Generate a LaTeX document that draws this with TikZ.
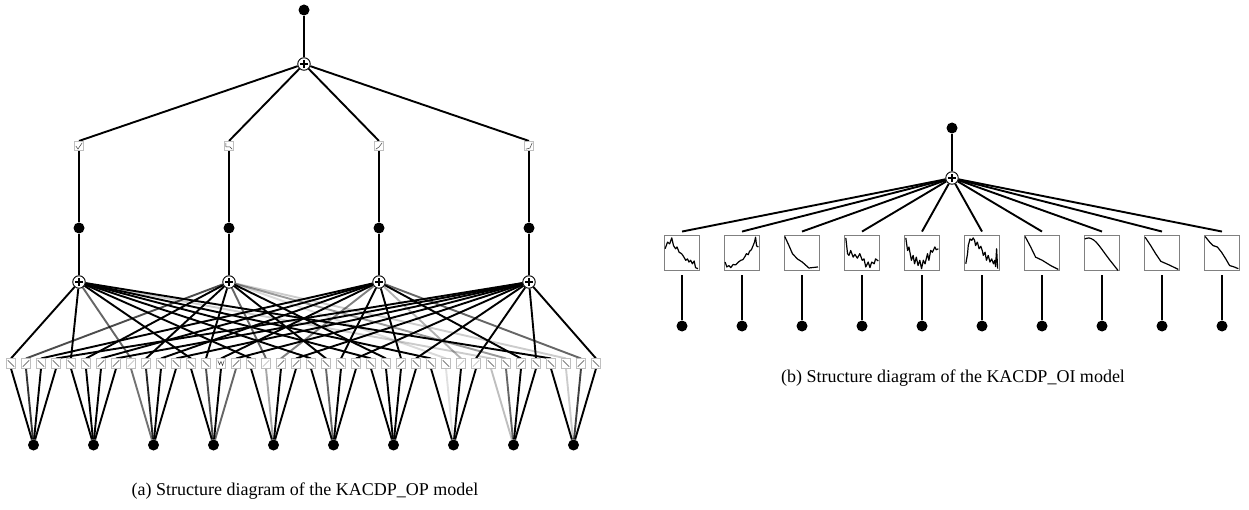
\documentclass[tikz,border=0pt]{standalone}
\usepackage{fontspec}
\setmainfont{Liberation Serif}
\usetikzlibrary{backgrounds}
\begin{document}
\begin{tikzpicture}[x=1pt,y=-1pt,
  dotn/.style={circle,fill=black,inner sep=0pt,minimum size=11pt},
  sumn/.style={circle,draw=black,line width=0.9pt,fill=white,inner sep=0pt,minimum size=12.5pt,
    path picture={
      \draw[line width=1.5pt] ([xshift=-4.2pt]path picture bounding box.center) -- ([xshift=4.2pt]path picture bounding box.center);
      \draw[line width=1.5pt] ([yshift=-4.2pt]path picture bounding box.center) -- ([yshift=4.2pt]path picture bounding box.center);}},
  sbox/.style={draw=black!25,line width=0.6pt,fill=white,inner sep=0pt,minimum size=9.5pt},
  bbox/.style={draw=black!50,line width=0.9pt,fill=white,inner sep=0pt,minimum size=35pt},
  edge/.style={line width=1.9pt},
  glyph/.style={line width=0.5pt,black!75},
  curve/.style={line width=1.2pt,line join=round},
  captext/.style={font=\fontsize{18}{22}\selectfont,inner sep=0pt}
]
\useasboundingbox (0,0) rectangle (1249,510);

% ---------------- (a) ----------------
\node[dotn] (o) at (304,10) {};
\node[sumn] (t) at (304,64) {};
\foreach \j/\x in {0/79,1/229,2/379,3/529}{
  \node[sbox] (q\j) at (\x,146) {};
  \node[dotn] (m\j) at (\x,228) {};
  \node[sumn] (h\j) at (\x,282) {};
}
\foreach \i in {0,...,39}{
  \node[sbox] (b\i) at ({11+15*\i},363.5) {};
}
\foreach \k in {0,...,9}{
  \node[dotn] (d\k) at ({33.5+60*\k},445) {};
}

% glyphs in the small boxes
\foreach \i in {0,2,3,4,5,10,11,12,13,16,20,21,22,23,24,25,27,28,29,32,33,35,36,37,39}{
  \draw[glyph] ([shift={(-3.2pt,3.2pt)}]b\i.center) -- ([shift={(3.2pt,-3.2pt)}]b\i.center);
}
\foreach \i in {1,6,7,9,15,18,19,26,34,38}{
  \draw[glyph] ([shift={(-3.2pt,-3.2pt)}]b\i.center) -- ([shift={(3.2pt,3.2pt)}]b\i.center);
}
\foreach \i in {8,17,30,31}{
  \draw[glyph,black!30] ([shift={(-3.2pt,-3.2pt)}]b\i.center) -- ([shift={(3.2pt,3.2pt)}]b\i.center);
}
\draw[glyph] ([shift={(-3.2pt,3pt)}]b14.center) -- ([shift={(-1.5pt,-1pt)}]b14.center) -- ([shift={(0pt,2pt)}]b14.center) -- ([shift={(1.5pt,-2pt)}]b14.center) -- ([shift={(3.2pt,3pt)}]b14.center);

\draw[glyph] ([shift={(-3.2pt,0pt)}]q0.center) -- ([shift={(-1pt,-3pt)}]q0.center) -- ([shift={(3.2pt,3.2pt)}]q0.center);
\draw[glyph] ([shift={(-3.2pt,3.2pt)}]q1.center) -- ([shift={(-3pt,-1pt)}]q1.center) -- ([shift={(1pt,-1pt)}]q1.center) -- ([shift={(3.2pt,-3.2pt)}]q1.center);
\draw[glyph] ([shift={(-3.2pt,-3.2pt)}]q2.center) -- ([shift={(0pt,-1pt)}]q2.center) -- ([shift={(3.2pt,3.2pt)}]q2.center);
\draw[glyph] ([shift={(-3.2pt,-3.2pt)}]q3.center) -- ([shift={(1pt,-2pt)}]q3.center) -- ([shift={(3.2pt,3.2pt)}]q3.center);

\begin{scope}[on background layer]
  \draw[edge] (o) -- (t);
  \foreach \j in {0,...,3}{
    \draw[edge] (t) -- (q\j.north);
    \draw[edge] (q\j.south) -- (m\j);
    \draw[edge] (m\j) -- (h\j);
  }
  \foreach \i/\lo/\up in {0/1/1,1/.8/.7,2/1/1,3/1/1,
                          4/1/1,5/1/1,6/1/1,7/1/1,
                          8/.55/.6,9/.85/1,10/1/1,11/1/1,
                          12/1/1,13/.7/1,14/1/1,15/.6/1,
                          16/1/1,17/.35/.6,18/1/.5,19/1/1,
                          20/1/1,21/.6/1,22/1/1,23/1/1,
                          24/1/1,25/1/1,26/1/1,27/1/1,
                          28/1/1,29/.12/.15,30/1/.3,31/1/1,
                          32/.25/.2,33/.6/.4,34/1/1,35/1/1,
                          36/1/1,37/.2/.2,38/.75/.6,39/1/1}{
    \pgfmathtruncatemacro\k{floor(\i/4)}
    \pgfmathtruncatemacro\j{mod(\i,4)}
    \draw[edge,draw opacity=\lo] (d\k) -- (b\i.south);
    \draw[edge,draw opacity=\up] (h\j) -- (b\i.north);
  }
\end{scope}

\node[captext] (capa) at (305,491) {(a) Structure diagram of the KACDP\_OP model};

% ---------------- (b) ----------------
\node[dotn] (bo) at (952,128) {};
\node[sumn] (bs) at (952,178) {};
\foreach \k in {0,...,9}{
  \node[bbox] (k\k) at ({682+60*\k},252.5) {};
  \node[dotn] (e\k) at ({682+60*\k},326) {};
}
\begin{scope}[on background layer]
  \draw[edge] (bo) -- (bs);
  \foreach \k in {0,...,9}{
    \draw[edge] (bs) -- ([yshift=3pt]k\k.north);
  }
\end{scope}
\foreach \k in {0,...,9}{
  \draw[edge] ([yshift=-5pt]k\k.south) -- (e\k);
}

\begin{scope}[shift={(k0.south west)},x=35pt,y=35pt]
\draw[curve] plot coordinates {(0.03,0.62)(0.10,0.81)(0.16,0.76)(0.22,0.93)(0.27,0.71)(0.33,0.62)(0.37,0.67)(0.43,0.52)(0.50,0.48)(0.55,0.41)(0.62,0.29)(0.67,0.33)(0.71,0.24)(0.76,0.29)(0.81,0.19)(0.86,0.27)(0.90,0.08)(0.97,0.05)};
\end{scope}
\begin{scope}[shift={(k1.south west)},x=35pt,y=35pt]
\draw[curve] plot coordinates {(0.03,0.24)(0.08,0.10)(0.14,0.14)(0.19,0.08)(0.26,0.17)(0.33,0.16)(0.41,0.24)(0.48,0.29)(0.54,0.31)(0.60,0.40)(0.64,0.48)(0.69,0.45)(0.73,0.55)(0.78,0.59)(0.83,0.71)(0.87,0.81)(0.90,0.95)(0.93,0.70)(0.98,0.67)};
\end{scope}
\begin{scope}[shift={(k2.south west)},x=35pt,y=35pt]
\draw[curve] plot coordinates {(0.02,0.97)(0.14,0.71)(0.24,0.48)(0.38,0.33)(0.52,0.24)(0.71,0.07)(0.97,0.10)};
\end{scope}
\begin{scope}[shift={(k3.south west)},x=35pt,y=35pt]
\draw[curve] plot coordinates {(0.05,0.93)(0.10,0.48)(0.14,0.43)(0.19,0.57)(0.26,0.38)(0.31,0.46)(0.38,0.35)(0.45,0.48)(0.52,0.29)(0.57,0.33)(0.62,0.10)(0.69,0.24)(0.74,0.08)(0.79,0.24)(0.86,0.19)(0.90,0.33)(0.98,0.27)};
\end{scope}
\begin{scope}[shift={(k4.south west)},x=35pt,y=35pt]
\draw[curve] plot coordinates {(0.05,0.93)(0.10,0.57)(0.14,0.67)(0.21,0.29)(0.26,0.43)(0.30,0.19)(0.35,0.38)(0.40,0.14)(0.45,0.29)(0.50,0.05)(0.55,0.29)(0.60,0.19)(0.67,0.48)(0.71,0.29)(0.76,0.57)(0.81,0.52)(0.88,0.67)(0.92,0.59)(0.98,0.62)};
\end{scope}
\begin{scope}[shift={(k5.south west)},x=35pt,y=35pt]
\draw[curve] plot coordinates {(0.05,0.19)(0.10,0.48)(0.12,0.71)(0.17,0.90)(0.22,0.86)(0.26,0.93)(0.30,0.86)(0.33,0.71)(0.38,0.81)(0.43,0.62)(0.48,0.69)(0.52,0.57)(0.55,0.43)(0.60,0.52)(0.64,0.29)(0.69,0.43)(0.74,0.24)(0.79,0.33)(0.84,0.19)(0.88,0.29)(0.90,0.11)(0.93,0.62)(0.96,0.05)};
\end{scope}
\begin{scope}[shift={(k6.south west)},x=35pt,y=35pt]
\draw[curve] plot coordinates {(0.03,0.97)(0.19,0.67)(0.33,0.38)(0.52,0.29)(0.76,0.14)(0.98,0.03)};
\end{scope}
\begin{scope}[shift={(k7.south west)},x=35pt,y=35pt]
\draw[curve] plot[smooth] coordinates {(0.02,0.90)(0.14,0.93)(0.29,0.86)(0.43,0.71)(0.57,0.52)(0.71,0.33)(0.86,0.14)(0.97,0.0)};
\end{scope}
\begin{scope}[shift={(k8.south west)},x=35pt,y=35pt]
\draw[curve] plot coordinates {(0.03,0.95)(0.19,0.71)(0.33,0.48)(0.48,0.26)(0.71,0.16)(0.98,0.03)};
\end{scope}
\begin{scope}[shift={(k9.south west)},x=35pt,y=35pt]
\draw[curve] plot coordinates {(0.03,0.97)(0.16,0.81)(0.26,0.71)(0.38,0.67)(0.50,0.52)(0.62,0.33)(0.73,0.14)(0.86,0.10)(0.98,0.05)};
\end{scope}

\node[captext] (capb) at (953,378) {(b) Structure diagram of the KACDP\_OI model};
\end{tikzpicture}
\end{document}
